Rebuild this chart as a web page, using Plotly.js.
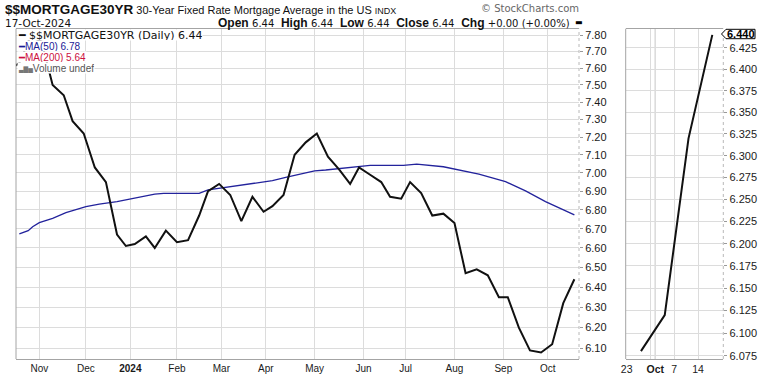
<!DOCTYPE html>
<html>
<head>
<meta charset="utf-8">
<script src="https://cdn.plot.ly/plotly-3.0.1.min.js"></script>
<style>html,body{margin:0;padding:0;background:#fff;}#chart{width:770px;height:376px;}</style>
</head>
<body>
<div id="chart"></div>
<script>
// ---- data (weekly 30-year fixed mortgage average, %) ----
const dates = ['2023-10-12','2023-10-19','2023-10-26','2023-11-02','2023-11-09','2023-11-16','2023-11-22','2023-11-30',
  '2023-12-07','2023-12-14','2023-12-21','2023-12-28','2024-01-04','2024-01-11','2024-01-18','2024-01-25',
  '2024-02-01','2024-02-08','2024-02-15','2024-02-22','2024-02-29','2024-03-07','2024-03-14','2024-03-21','2024-03-28',
  '2024-04-04','2024-04-11','2024-04-18','2024-04-25','2024-05-02','2024-05-09','2024-05-16','2024-05-23','2024-05-30',
  '2024-06-06','2024-06-13','2024-06-20','2024-06-27','2024-07-03','2024-07-11','2024-07-18','2024-07-25',
  '2024-08-01','2024-08-08','2024-08-15','2024-08-22','2024-08-29','2024-09-05','2024-09-12','2024-09-19','2024-09-26',
  '2024-10-03','2024-10-10','2024-10-17'];
const rate = [7.57,7.63,7.79,7.76,7.50,7.44,7.29,7.22,
  7.03,6.95,6.67,6.61,6.62,6.66,6.60,6.69,
  6.63,6.64,6.77,6.90,6.94,6.88,6.74,6.87,6.79,
  6.82,6.88,7.10,7.17,7.22,7.09,7.02,6.94,7.03,
  6.99,6.95,6.87,6.86,6.95,6.89,6.77,6.78,
  6.73,6.47,6.49,6.46,6.35,6.35,6.20,6.09,6.08,
  6.12,6.32,6.44];

// MA(50)
const maDates = ['2023-10-19','2023-10-25','2023-10-27','2023-11-01','2023-11-09','2023-11-17','2023-12-01','2023-12-11',
  '2023-12-21','2024-01-03','2024-01-18','2024-01-24','2024-02-15','2024-02-22','2024-03-07','2024-03-13','2024-03-25',
  '2024-04-04','2024-04-12','2024-04-22','2024-05-01','2024-05-08','2024-05-23','2024-06-06','2024-06-28','2024-07-09',
  '2024-07-25','2024-08-07','2024-08-16','2024-09-04','2024-09-17','2024-09-30','2024-10-17'];
const ma50 = [6.673,6.690,6.711,6.732,6.755,6.785,6.817,6.831,
  6.844,6.862,6.885,6.889,6.889,6.907,6.925,6.929,6.947,
  6.958,6.976,6.993,7.011,7.016,7.029,7.042,7.042,7.049,
  7.034,7.011,6.993,6.952,6.902,6.844,6.773];

// zoom panel: last four weekly readings
const zoomDates = dates.slice(-4);
const zoomRate = rate.slice(-4);

// ticks / labels
const monthTicks = ['2023-11-01','2023-12-01','2024-01-02','2024-02-01','2024-03-01','2024-04-01','2024-05-01',
  '2024-06-03','2024-07-01','2024-08-01','2024-09-03','2024-10-01'];
const monthLabels = ['Nov','Dec','<b>2024</b>','Feb','Mar','Apr','May','Jun','Jul','Aug','Sep','Oct'];
const yTicks = [6.1,6.2,6.3,6.4,6.5,6.6,6.7,6.8,6.9,7.0,7.1,7.2,7.3,7.4,7.5,7.6,7.7,7.8];
const zTicks = [6.075,6.100,6.125,6.150,6.175,6.200,6.225,6.250,6.275,6.300,6.325,6.350,6.375,6.400,6.425];
const zxTicks = ['2024-09-23','2024-09-30','2024-10-01','2024-10-07','2024-10-14'];
const zxLabels = ['23','','<b>Oct</b>','7','14'];
const holidays = ['2023-11-23','2023-12-25','2024-01-01','2024-01-15','2024-02-19','2024-03-29','2024-05-27',
  '2024-06-19','2024-07-04','2024-09-02'];

const W = 770, H = 376;
const px = x => x / W;
const py = y => 1 - y / H;
const yDom = [py(359), py(28.7)];
const ARIAL = 'Liberation Sans, Arial, sans-serif';
const VERD = 'DejaVu Sans, Verdana, sans-serif';
const GRID = '#dcdcdc';
const FRAME = '#a4a4a4';

const traces = [
  {x: maDates, y: ma50, type: 'scatter', mode: 'lines', name: 'MA(50)', xaxis: 'x', yaxis: 'y',
   line: {color: '#23239c', width: 1.3}, hoverinfo: 'skip'},
  {x: dates, y: rate, type: 'scatter', mode: 'lines', name: '$$MORTGAGE30YR', xaxis: 'x', yaxis: 'y',
   line: {color: '#111111', width: 2}},
  {x: zoomDates, y: zoomRate, type: 'scatter', mode: 'lines', name: 'zoom', xaxis: 'x2', yaxis: 'y2',
   line: {color: '#111111', width: 2}}
];

const ann = (o) => Object.assign({xref: 'paper', yref: 'paper', showarrow: false, xanchor: 'left', yanchor: 'middle'}, o);

const annotations = [
  ann({x: px(3), y: py(9.5), text: '<span style="font-size:13.5px;font-weight:bold">$$MORTGAGE30YR</span> 30-Year Fixed Rate Mortgage Average in the US <span style="font-size:9px">INDX</span>',
       font: {family: ARIAL, size: 11, color: '#111'}}),
  ann({x: px(581), y: py(8), xanchor: 'right', text: '© StockCharts.com', font: {family: VERD, size: 10, color: '#666'}}),
  ann({x: px(3), y: py(22.5), text: '17-Oct-2024', font: {family: VERD, size: 10.5, color: '#111'}}),
  ann({x: px(572), y: py(22.5), xanchor: 'right',
       text: '<b>Open</b> <span style="font-family:DejaVu Sans;font-size:10px">6.44</span>  <b>High</b> <span style="font-family:DejaVu Sans;font-size:10px">6.44</span>  <b>Low</b> <span style="font-family:DejaVu Sans;font-size:10px">6.44</span>  <b>Close</b> <span style="font-family:DejaVu Sans;font-size:10px">6.44</span>  <b>Chg</b> <span style="font-family:DejaVu Sans;font-size:10px">+0.00 (+0.00%)</span>',
       font: {family: ARIAL, size: 12, color: '#111'}}),
  ann({x: px(572.5), y: py(22), text: '▬', font: {family: VERD, size: 8, color: '#000'}}),
  // legend rows
  ann({x: px(17), y: py(35), bgcolor: '#fff', borderpad: 0, height: 10,
       text: '━ $$MORTGAGE30YR (Daily) 6.44', font: {family: VERD, size: 11, color: '#111'}}),
  ann({x: px(17), y: py(46), bgcolor: '#fff', borderpad: 0, height: 10,
       text: '━MA(50) 6.78', font: {family: ARIAL, size: 10, color: '#1a1a96'}}),
  ann({x: px(17), y: py(57), bgcolor: '#fff', borderpad: 0, height: 10,
       text: '━MA(200) 5.64', font: {family: ARIAL, size: 10, color: '#cc1040'}}),
  ann({x: px(17), y: py(68), bgcolor: '#fff', borderpad: 0, height: 10,
       text: '<span style="font-size:6px;font-family:DejaVu Sans;fill:#777">▄█▆</span>Volume undef', font: {family: ARIAL, size: 10, color: '#555'}}),
  // last value callout
  ann({x: px(740.5), y: py(34), xanchor: 'center', text: '<b>6.440</b>', font: {family: ARIAL, size: 11, color: '#000'}})
];

const shapes = [
  // main frame: left solid, right dotted
  {type: 'line', xref: 'paper', yref: 'paper', x0: px(16), x1: px(16), y0: yDom[0], y1: yDom[1], line: {color: FRAME, width: 1}},
  {type: 'line', xref: 'paper', yref: 'paper', x0: px(579), x1: px(579), y0: yDom[0], y1: yDom[1], line: {color: '#b8b8b8', width: 1, dash: 'dot'}},
  // zoom panel frame
  {type: 'line', xref: 'paper', yref: 'paper', x0: px(625.7), x1: px(625.7), y0: yDom[0], y1: yDom[1], line: {color: FRAME, width: 1}},
  {type: 'line', xref: 'paper', yref: 'paper', x0: px(723.3), x1: px(723.3), y0: yDom[0], y1: yDom[1], line: {color: '#b8b8b8', width: 1, dash: 'dot'}},
  // month separator in zoom panel
  {type: 'line', xref: 'x2', yref: 'y2 domain', x0: '2024-10-01', x1: '2024-10-01', y0: 0, y1: 1, layer: 'below', line: {color: '#b0b0b0', width: 1}},
  // callout box
  {type: 'path', xref: 'paper', yref: 'paper',
   path: `M ${px(721.5)},${py(34)} L ${px(726)},${py(29.3)} L ${px(755)},${py(29.3)} L ${px(755)},${py(38.7)} L ${px(726)},${py(38.7)} Z`,
   fillcolor: '#fff', line: {color: '#000', width: 1}}
];

const layout = {
  width: W, height: H, margin: {l: 0, r: 0, t: 0, b: 0},
  paper_bgcolor: '#fff', plot_bgcolor: '#fff', showlegend: false,
  font: {family: ARIAL, size: 11, color: '#1a1a1a'},
  xaxis: {domain: [px(16), px(579)], anchor: 'y', type: 'date',
    range: ['2023-10-17 12:00', '2024-10-21 02:00'],
    rangebreaks: [{pattern: 'day of week', bounds: [6, 1]}, {values: holidays}],
    tickmode: 'array', tickvals: monthTicks, ticktext: monthLabels, ticks: '',
    tickfont: {family: ARIAL, size: 10, color: '#1a1a1a'},
    showgrid: true, gridcolor: GRID, gridwidth: 1, zeroline: false,
    showline: true, linecolor: FRAME, linewidth: 1, mirror: true, fixedrange: true},
  yaxis: {domain: yDom, anchor: 'x', type: 'log', side: 'right',
    range: [0.781703, 0.894240],
    tickmode: 'array', tickvals: yTicks, tickformat: '.2f',
    ticks: 'outside', ticklen: 3, tickcolor: '#999',
    tickfont: {family: ARIAL, size: 11, color: '#1a1a1a'},
    showgrid: true, gridcolor: GRID, gridwidth: 1, zeroline: false, showline: false, fixedrange: true},
  xaxis2: {domain: [px(625.7), px(723.3)], anchor: 'y2', type: 'date',
    range: ['2024-09-20 19:00', '2024-10-21 07:30'],
    rangebreaks: [{pattern: 'day of week', bounds: [6, 1]}],
    tickmode: 'array', tickvals: zxTicks, ticktext: zxLabels, ticks: '',
    tickfont: {family: ARIAL, size: 10.5, color: '#1a1a1a'},
    showgrid: true, gridcolor: GRID, gridwidth: 1, zeroline: false,
    showline: true, linecolor: FRAME, linewidth: 1, mirror: true, fixedrange: true},
  yaxis2: {domain: yDom, anchor: 'x2', type: 'log', side: 'right',
    range: [0.783284, 0.809375],
    tickmode: 'array', tickvals: zTicks, tickformat: '.3f',
    ticks: 'outside', ticklen: 3, tickcolor: '#999',
    tickfont: {family: ARIAL, size: 11, color: '#1a1a1a'},
    showgrid: true, gridcolor: GRID, gridwidth: 1, zeroline: false, showline: false, fixedrange: true},
  annotations: annotations,
  shapes: shapes
};

Plotly.newPlot('chart', traces, layout, {staticPlot: true, displayModeBar: false});
</script>
</body>
</html>
